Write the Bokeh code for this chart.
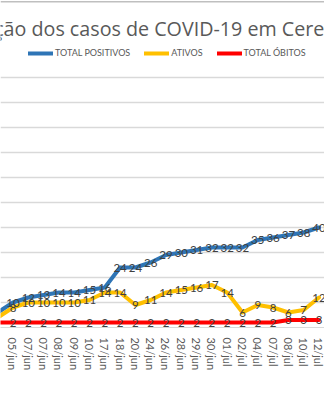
from bokeh.plotting import figure
from bokeh.models import (Range1d, FixedTicker, Label, Legend, LegendItem,
                          ColumnDataSource, Span)
from bokeh.core.properties import value
from bokeh.embed import file_html
from bokeh.resources import INLINE

# ---- data ----
dates = ["04/jun", "05/jun", "07/jun", "07/jun", "08/jun", "09/jun", "10/jun",
         "17/jun", "18/jun", "20/jun", "24/jun", "26/jun", "28/jun", "29/jun",
         "30/jun", "01/jul", "02/jul", "04/jul", "07/jul", "08/jul", "10/jul",
         "12/jul"]
total_positivos = [6, 10, 12, 13, 14, 14, 15, 16, 24, 24, 26, 29, 30, 31, 32,
                   32, 32, 35, 36, 37, 38, 40]
ativos = [4, 8, 10, 10, 10, 10, 11, 14, 14, 9, 11, 14, 15, 16, 17, 14, 6, 9,
          8, 6, 7, 12]
total_obitos = [2, 2, 2, 2, 2, 2, 2, 2, 2, 2, 2, 2, 2, 2, 2, 2, 2, 2, 2, 3, 3,
                3]
y_ticks = [0, 10, 20, 30, 40, 50, 60, 70, 80, 90, 100]
series_names = ["TOTAL POSITIVOS", "ATIVOS", "TOTAL ÓBITOS"]
series_colors = ["#2E75B6", "#FFC000", "#FF0000"]
title_text = "Evolução dos casos de COVID-19 em Ceres"

xs = list(range(len(dates)))

FONT = "Lato"
W, H = 324, 400

p = figure(width=W, height=H, output_backend="svg", toolbar_location=None,
           x_range=Range1d(0.183, 21.36), y_range=Range1d(0, 130.8),
           min_border_left=0, min_border_right=0, min_border_top=0,
           min_border_bottom=73)
p.outline_line_color = None
p.background_fill_color = "white"
p.border_fill_color = "white"

# grid
p.xgrid.visible = False
p.ygrid.ticker = FixedTicker(ticks=y_ticks)
p.ygrid.grid_line_color = "#D9D9D9"
p.ygrid.grid_line_width = 1.5
p.yaxis.visible = False

# x axis
p.xaxis.ticker = FixedTicker(ticks=xs)
p.xaxis.major_label_overrides = {i: d for i, d in zip(xs, dates)}
p.xaxis.major_label_orientation = "vertical"
p.xaxis.major_label_text_font = FONT
p.xaxis.major_label_text_font_size = "11px"
p.xaxis.major_label_text_color = "#595959"
p.xaxis.major_label_standoff = 4
p.xaxis.axis_line_color = "#D9D9D9"
p.xaxis.major_tick_line_color = None
p.xaxis.minor_tick_line_color = None

# chart border at top
p.add_layout(Span(location=130.3, dimension="width", line_color="#BFBFBF",
                  line_width=1.5))

renderers = []
for vals, color in zip([total_positivos, ativos, total_obitos], series_colors):
    r = p.line(xs, vals, line_color=color, line_width=4, line_join="round",
               line_cap="round")
    renderers.append(r)

# data labels (the first point's labels fall outside the visible area)
for vals in [total_positivos, ativos, total_obitos]:
    src = ColumnDataSource(dict(x=xs[1:], y=vals[1:],
                                t=[str(v) for v in vals[1:]]))
    p.text(x="x", y="y", text="t", source=src, text_font=value(FONT),
           text_font_size="11.5px", text_color="#404040", text_align="center",
           text_baseline="middle")

legend = Legend(items=[LegendItem(label=n, renderers=[r])
                       for n, r in zip(series_names, renderers)],
                orientation="horizontal", location=(28, 269),
                padding=0, margin=0, spacing=14, label_standoff=2,
                glyph_width=25, glyph_height=10, label_height=10,
                label_text_font=FONT, label_text_font_size="9px",
                label_text_color="#595959", border_line_color=None,
                background_fill_alpha=0)
p.add_layout(legend)

p.add_layout(Label(x=-56, y=299, x_units="screen", y_units="screen",
                   text=title_text, text_font="Open Sans",
                   text_font_size="19.7px", text_color="#595959",
                   text_align="left", text_baseline="alphabetic"))

open("out.html", "w").write(file_html(p, INLINE))
